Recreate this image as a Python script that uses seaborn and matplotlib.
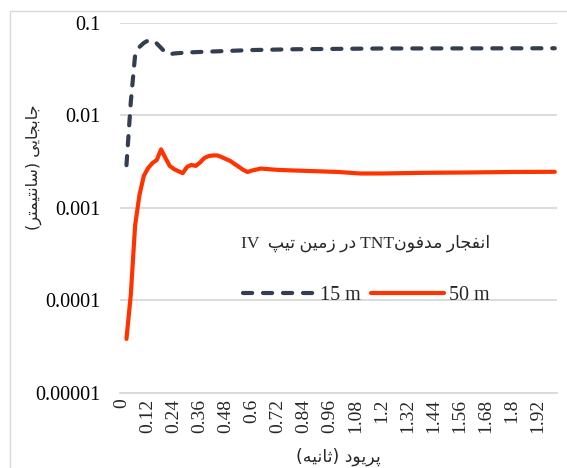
import re
import pandas as pd
import seaborn as sns
import matplotlib.pyplot as plt
from matplotlib.patches import Rectangle

# data (time in s, displacement in cm)
t_15 = [0.02, 0.04, 0.06, 0.08, 0.10, 0.12, 0.14, 0.16, 0.18, 0.20, 0.22, 0.24,
        0.30, 0.40, 0.60, 0.80, 1.20, 2.00]
d_15 = [0.0029, 0.014, 0.045, 0.055, 0.0608, 0.0647, 0.0647, 0.060, 0.0537, 0.048,
        0.0459, 0.0468, 0.048, 0.049, 0.051, 0.052, 0.053, 0.0533]

t_50 = [0.02, 0.04, 0.06, 0.08, 0.10, 0.12, 0.14, 0.16, 0.18, 0.20, 0.22, 0.24,
        0.26, 0.28, 0.30, 0.32, 0.34, 0.36, 0.38, 0.40, 0.42, 0.44, 0.46, 0.48,
        0.50, 0.52, 0.54, 0.56, 0.58, 0.60, 0.62, 0.64, 0.72, 0.80, 1.00, 1.10,
        1.20, 1.40, 1.60, 1.80, 2.00]
d_50 = [3.84e-5, 1.15e-4, 6.5e-4, 1.38e-3, 2.22e-3, 2.7e-3, 3.06e-3, 3.3e-3, 4.3e-3,
        3.47e-3, 2.85e-3, 2.63e-3, 2.5e-3, 2.38e-3, 2.78e-3, 2.92e-3, 2.85e-3, 3.1e-3,
        3.47e-3, 3.64e-3, 3.7e-3, 3.7e-3, 3.55e-3, 3.38e-3, 3.22e-3, 2.99e-3, 2.78e-3,
        2.58e-3, 2.45e-3, 2.54e-3, 2.6e-3, 2.67e-3, 2.58e-3, 2.54e-3, 2.45e-3, 2.36e-3,
        2.36e-3, 2.4e-3, 2.42e-3, 2.45e-3, 2.46e-3]

series = ['15 m', '50 m']
x_ticks = [0, 0.12, 0.24, 0.36, 0.48, 0.6, 0.72, 0.84, 0.96, 1.08, 1.2, 1.32,
           1.44, 1.56, 1.68, 1.8, 1.92]
x_labels = ['0', '0.12', '0.24', '0.36', '0.48', '0.6', '0.72', '0.84', '0.96',
            '1.08', '1.2', '1.32', '1.44', '1.56', '1.68', '1.8', '1.92']
y_ticks = [1e-5, 1e-4, 1e-3, 1e-2, 1e-1]
y_labels = ['0.00001', '0.0001', '0.001', '0.01', '0.1']

title_txt = 'انفجار مدفونTNT در زمین تیپ  IV'
xlabel_txt = 'پریود (ثانیه)'
ylabel_txt = 'جابجایی (سانتیمتر)'

# contextual forms (isolated, final, initial, medial) - no shaping engine in matplotlib
FORMS = {
    'ا': ('\uFE8D', '\uFE8E', None, None),
    'ب': ('\uFE8F', '\uFE90', '\uFE91', '\uFE92'),
    'پ': ('\uFB56', '\uFB57', '\uFB58', '\uFB59'),
    'ت': ('\uFE95', '\uFE96', '\uFE97', '\uFE98'),
    'ث': ('\uFE99', '\uFE9A', '\uFE9B', '\uFE9C'),
    'ج': ('\uFE9D', '\uFE9E', '\uFE9F', '\uFEA0'),
    'د': ('\uFEA9', '\uFEAA', None, None),
    'ر': ('\uFEAD', '\uFEAE', None, None),
    'ز': ('\uFEAF', '\uFEB0', None, None),
    'س': ('\uFEB1', '\uFEB2', '\uFEB3', '\uFEB4'),
    'ف': ('\uFED1', '\uFED2', '\uFED3', '\uFED4'),
    'م': ('\uFEE1', '\uFEE2', '\uFEE3', '\uFEE4'),
    'ن': ('\uFEE5', '\uFEE6', '\uFEE7', '\uFEE8'),
    'ه': ('\uFEE9', '\uFEEA', '\uFEEB', '\uFEEC'),
    'و': ('\uFEED', '\uFEEE', None, None),
    'ی': ('\uFBFC', '\uFBFD', '\uFBFE', '\uFBFF'),
}


def farsi(s):
    out = []
    for i, c in enumerate(s):
        if c not in FORMS:
            out.append(c)
            continue
        prev = s[i - 1] if i > 0 else ''
        nxt = s[i + 1] if i + 1 < len(s) else ''
        jp = prev in FORMS and FORMS[prev][2] is not None
        jn = FORMS[c][2] is not None and nxt in FORMS
        idx = 3 if (jp and jn) else 1 if jp else 2 if jn else 0
        out.append(FORMS[c][idx])
    runs = re.findall(r'[A-Za-z0-9.]+|.', ''.join(out))
    mirror = {'(': ')', ')': '('}
    return ''.join(mirror.get(r, r) for r in reversed(runs))


df = pd.concat([
    pd.DataFrame({'t': t_15, 'd': d_15, 'depth': series[0]}),
    pd.DataFrame({'t': t_50, 'd': d_50, 'depth': series[1]}),
])

sns.set_style('white')
plt.rcParams['font.family'] = ['Liberation Serif', 'DejaVu Sans']

fig = plt.figure(figsize=(5.67, 4.68), dpi=100)
ax = fig.add_axes([0.2116, 0.1603, 0.7707, 0.7906])

sns.lineplot(data=df, x='t', y='d', hue='depth', style='depth', ax=ax,
             palette={'15 m': '#333f50', '50 m': '#ff3300'},
             dashes={'15 m': (2.2, 2.6), '50 m': ''},
             linewidth=3, dash_capstyle='round', solid_capstyle='round',
             solid_joinstyle='round', legend=False, sort=True)

ax.set_yscale('log')
ax.set_ylim(1e-5, 0.1)
ax.set_xlim(-0.01, 2.01)
ax.set_yticks(y_ticks)
ax.set_yticklabels(y_labels)
ax.yaxis.set_minor_locator(plt.NullLocator())
ax.set_xticks(x_ticks)
ax.set_xticklabels(x_labels, rotation=90)
ax.tick_params(axis='y', length=0, pad=14, labelsize=14.5, colors='#000000')
ax.tick_params(axis='x', length=0, pad=4, labelsize=14)

ax.yaxis.grid(True, color='#d9d9d9', lw=1.3)
ax.set_axisbelow(True)
for side in ['left', 'right', 'top']:
    ax.spines[side].set_visible(False)
ax.spines['bottom'].set_color('#d9d9d9')
ax.spines['bottom'].set_linewidth(1.3)

ax.set_xlabel(farsi(xlabel_txt), fontsize=12.5, family='DejaVu Sans')
ax.xaxis.set_label_coords(0.5, -0.148)
ax.set_ylabel(farsi(ylabel_txt), fontsize=11.5, family='DejaVu Sans')
ax.yaxis.set_label_coords(-0.178, 0.611)

leg = ax.legend(ax.lines[:2], series, title=farsi(title_txt), ncol=2,
                loc='center', bbox_to_anchor=(0.563, 0.332), frameon=False,
                fontsize=14.5, title_fontsize=12.5, handlelength=3.6,
                handletextpad=0.25, columnspacing=0.5, labelspacing=1.7)

fig.add_artist(Rectangle((10 / 567, -0.1), 2, 1.1 - 11 / 468,
                         transform=fig.transFigure, fill=False,
                         ec='#d9d9d9', lw=1))

fig.savefig('out.png', dpi=100)
